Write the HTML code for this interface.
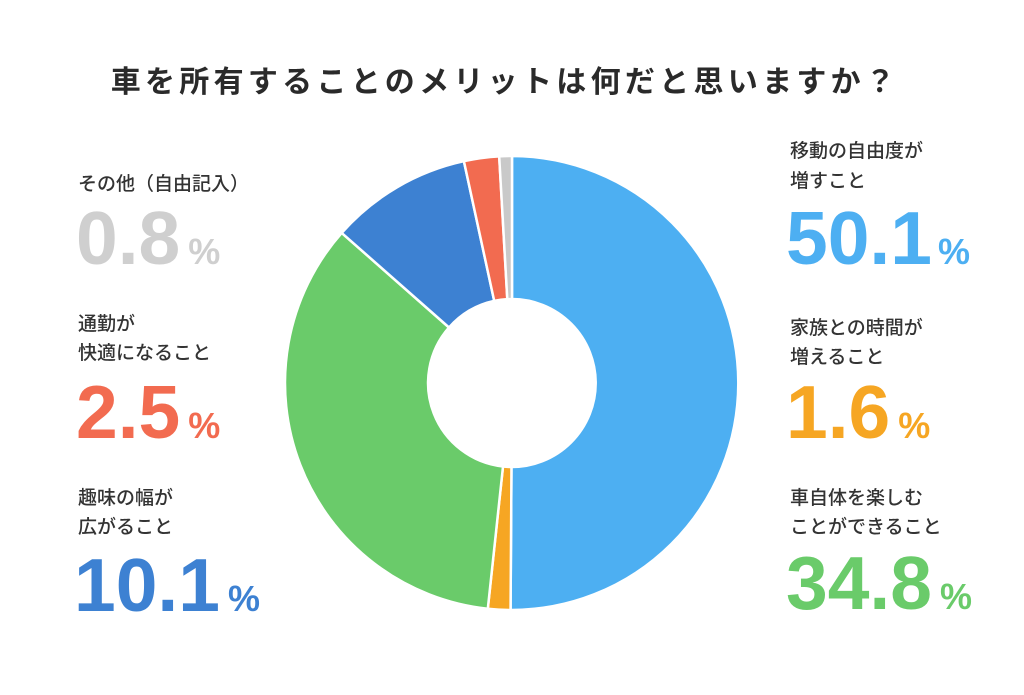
<!DOCTYPE html>
<html><head><meta charset="utf-8"><style>
html,body{margin:0;padding:0;background:#fff;}
svg{display:block;}
.t{font-family:"Liberation Sans","Noto Sans CJK JP",sans-serif;}
.lab{font-size:19px;fill:#333;font-weight:500;}
.num{font-size:75px;font-weight:bold;}
.pc{font-size:36px;font-weight:bold;}
</style></head><body>
<svg width="1024" height="695" viewBox="0 0 1024 695" xmlns="http://www.w3.org/2000/svg">
<rect width="1024" height="695" fill="#fff"/>
<text class="t" x="505" y="92" text-anchor="middle" font-size="30" font-weight="bold" fill="#2a2a2a" letter-spacing="4.3">車を所有することのメリットは何だと思いますか？</text>
<g stroke="#fff" stroke-width="2.5" stroke-linejoin="round">
<path d="M512,156 A227,227 0 0 1 510.57,610 L511.47,467 A84,84 0 0 0 512,299 Z" fill="#4daff2"/>
<path d="M510.57,610 A227,227 0 0 1 487.8,608.7 L503,466.5 A84,84 0 0 0 511.47,467 Z" fill="#f6a623"/>
<path d="M487.8,608.7 A227,227 0 0 1 341.7,232.9 L449,327.5 A84,84 0 0 0 503,466.5 Z" fill="#6acb6a"/>
<path d="M341.7,232.9 A227,227 0 0 1 463.9,161.2 L494.2,300.9 A84,84 0 0 0 449,327.5 Z" fill="#3d81d2"/>
<path d="M463.9,161.2 A227,227 0 0 1 499.2,156.4 L507.3,299.1 A84,84 0 0 0 494.2,300.9 Z" fill="#f26b50"/>
<path d="M499.2,156.4 A227,227 0 0 1 512,156 L512,299 A84,84 0 0 0 507.3,299.1 Z" fill="#c9c9c9"/>
</g>
<g class="t">
<text class="lab" x="78" y="190">その他（自由記入）</text>
<text class="num" x="76" y="264" fill="#cfcfcf">0.8<tspan class="pc" dx="8">%</tspan></text>

<text class="lab" x="78" y="330">通勤が</text>
<text class="lab" x="78" y="359">快適になること</text>
<text class="num" x="76" y="438" fill="#f26b50">2.5<tspan class="pc" dx="8">%</tspan></text>

<text class="lab" x="78" y="504">趣味の幅が</text>
<text class="lab" x="78" y="533">広がること</text>
<text class="num" x="74" y="611" fill="#3d81d2">10.1<tspan class="pc" dx="8">%</tspan></text>

<text class="lab" x="790" y="157">移動の自由度が</text>
<text class="lab" x="790" y="187">増すこと</text>
<text class="num" x="786" y="264" fill="#4daff2">50.1<tspan class="pc" dx="6">%</tspan></text>

<text class="lab" x="790" y="334">家族との時間が</text>
<text class="lab" x="790" y="363">増えること</text>
<text class="num" x="786" y="438" fill="#f6a623">1.6<tspan class="pc" dx="8">%</tspan></text>

<text class="lab" x="790" y="504">車自体を楽しむ</text>
<text class="lab" x="790" y="533">ことができること</text>
<text class="num" x="786" y="609" fill="#6acb6a">34.8<tspan class="pc" dx="8">%</tspan></text>
</g>
</svg>
</body></html>
